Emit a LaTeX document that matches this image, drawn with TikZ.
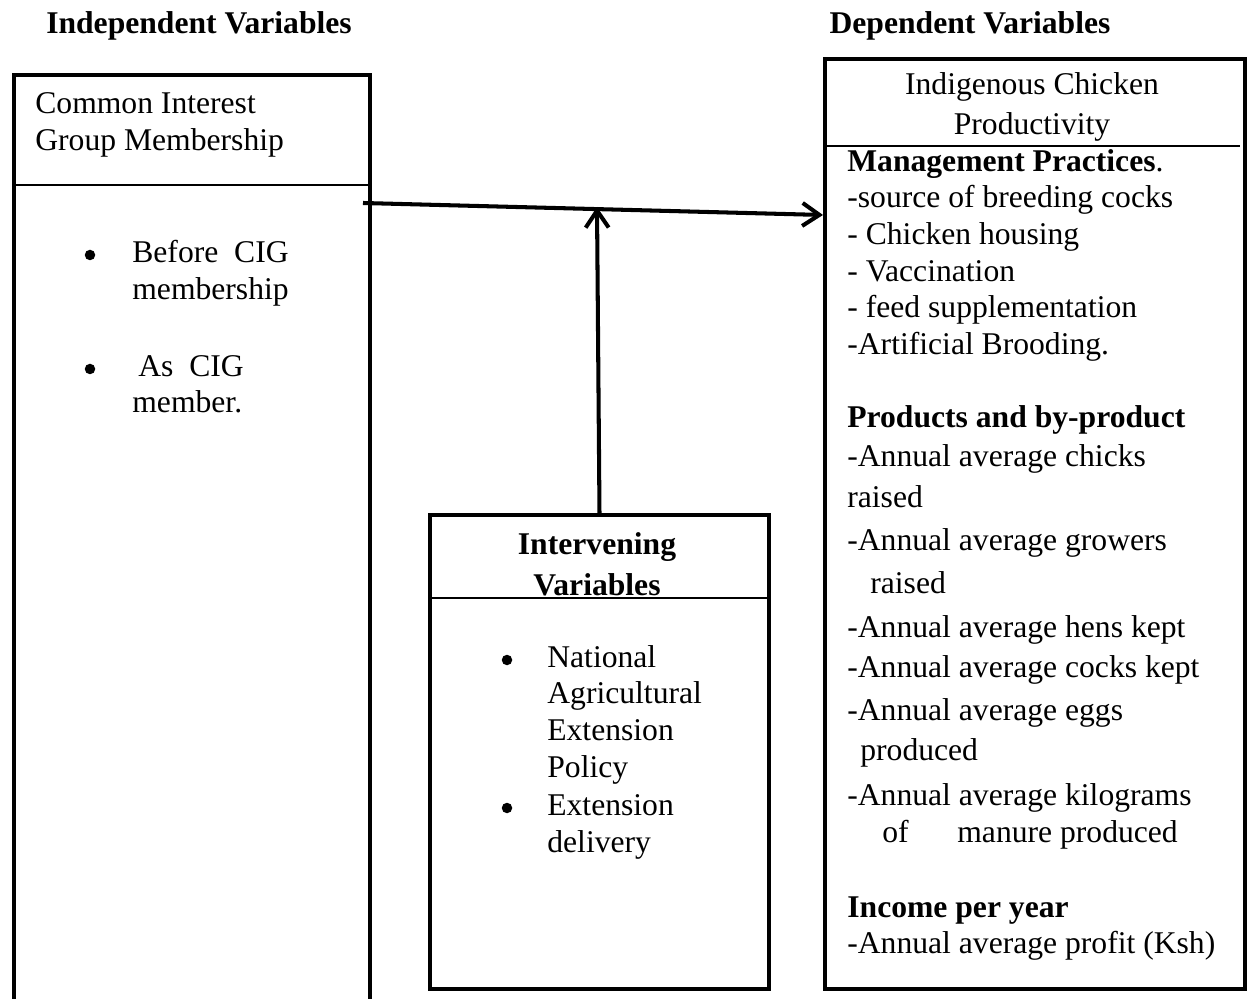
\documentclass[tikz,border=0pt]{standalone}
\usepackage{fontspec}
\setmainfont{Liberation Serif}
\usetikzlibrary{arrows.meta}
\begin{document}
\begin{tikzpicture}[x=0.02cm, y=-0.02cm,
  txt/.style={anchor=base west, inner sep=0pt, font=\fontsize{18}{21}\selectfont},
  ctr/.style={txt, anchor=base},
  dot/.style={circle, fill, inner sep=0pt, minimum size=0.21cm},
  frame/.style={draw, line width=2.3pt, anchor=north west, inner sep=0pt},
  rule/.style={line width=0.8pt},
  flow/.style={line width=2.3pt, -{Straight Barb[length=3.4mm, width=4.6mm]}}]
\useasboundingbox (0,0) rectangle (1250,999);
\node[ctr] (hind) at (199,34){\textbf{Independent Variables}};
\node[ctr] (hdep) at (970,34){\textbf{Dependent Variables}};
% independent
\node[frame, minimum width=7.12cm, minimum height=19cm] (ind) at (12,73){};
\draw[rule] (12,185) -- (368,185);
\node[txt] (ind0) at (35,114){Common Interest};
\node[txt] (ind1) at (35,151){Group Membership};
\node[dot] (ind2) at (90,255){};
\node[txt] (ind3) at (132,263){Before~~CIG};
\node[txt] (ind4) at (132,300){membership};
\node[dot] (ind5) at (90,369){};
\node[txt] (ind6) at (138,377){As~~CIG};
\node[txt] (ind7) at (132,413){member.};
% intervening
\node[frame, minimum width=6.78cm, minimum height=9.48cm] (int) at (428,513){};
\draw[rule] (428,598) -- (767,598);
\node[ctr] (int0) at (597,555){\textbf{Intervening}};
\node[ctr] (int1) at (597,595){\textbf{Variables}};
\node[dot] (int2) at (507,660){};
\node[txt] (int3) at (547,667){National};
\node[txt] (int4) at (547,703){Agricultural};
\node[txt] (int5) at (547,740){Extension};
\node[txt] (int6) at (547,777){Policy};
\node[dot] (int7) at (507,808){};
\node[txt] (int8) at (547,815){Extension};
\node[txt] (int9) at (547,852){delivery};
% dependent
\node[frame, minimum width=8.4cm, minimum height=18.6cm] (dep) at (823,57){};
\draw[rule] (826,146) -- (1240,146);
\node[ctr] (dep0) at (1032,95){Indigenous Chicken};
\node[ctr] (dep1) at (1032,135){Productivity};
\node[txt] (dep2) at (847,172){\textbf{Management Practices}.};
\node[txt] (dep3) at (847,208){-source of breeding cocks};
\node[txt] (dep4) at (847,245){- Chicken housing};
\node[txt] (dep5) at (847,282){- Vaccination};
\node[txt] (dep6) at (847,318){- feed supplementation};
\node[txt] (dep7) at (847,355){-Artificial Brooding.};
\node[txt] (dep8) at (847,428){\textbf{Products and by-product}};
\node[txt] (dep9) at (847,467){-Annual average chicks};
\node[txt] (dep10) at (847,508){raised};
\node[txt] (dep11) at (847,550){-Annual average growers};
\node[txt] (dep12) at (870,593){raised};
\node[txt] (dep13) at (847,637){-Annual average hens kept};
\node[txt] (dep14) at (847,677){-Annual average cocks kept};
\node[txt] (dep15) at (847,720){-Annual average eggs};
\node[txt] (dep16) at (860,760){produced};
\node[txt] (dep17) at (847,805){-Annual average kilograms};
\node[txt] (dep18) at (882,842){of};
\node[txt] (dep19) at (957,842){manure produced};
\node[txt] (dep20) at (847,917){\textbf{Income per year}};
\node[txt] (dep21) at (847,953){-Annual average profit (Ksh)};
% arrows
\coordinate (src) at (363,203);
\coordinate (dst) at (823,215);
\coordinate (join) at (597,207);
\draw[flow] (src) -- (dst);
\draw[flow] (int.north) -- (join);
\end{tikzpicture}
\end{document}
